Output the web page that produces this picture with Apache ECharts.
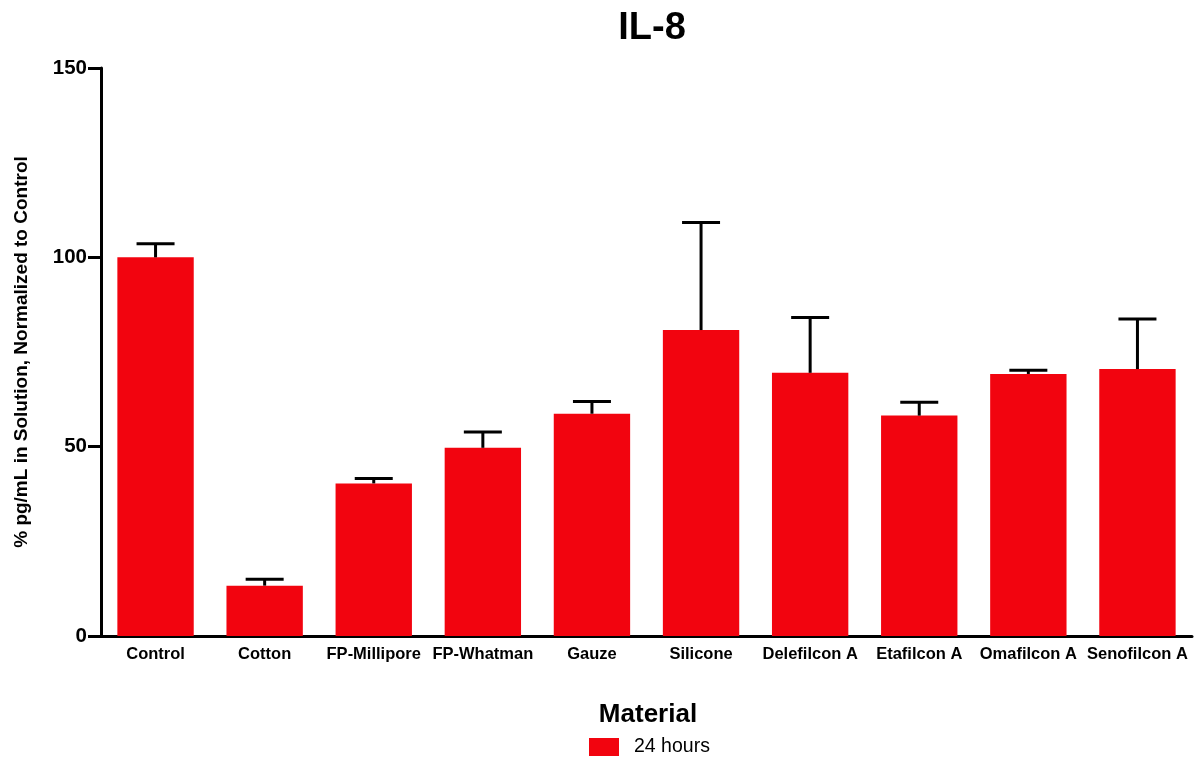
<!DOCTYPE html>
<html>
<head>
<meta charset="utf-8">
<script src="https://cdn.jsdelivr.net/npm/echarts@6/dist/echarts.min.js"></script>
<style>html,body{margin:0;padding:0;background:#fff;}#c{width:1196px;height:760px;}</style>
</head>
<body>
<div id="c"></div>
<script>
var categories = ['Control','Cotton','FP-Millipore','FP-Whatman','Gauze','Silicone','Delefilcon A','Etafilcon A','Omafilcon A','Senofilcon A'];
var means = [100, 13.3, 40.3, 49.7, 58.7, 80.8, 69.5, 58.2, 69.2, 70.5];
var errors = [3.6, 1.7, 1.3, 4.2, 3.2, 28.4, 14.6, 3.5, 1.0, 13.2];
var yTicks = [0, 50, 100, 150];
var seriesName = '24 hours';

var FONT = 'Arial, "Liberation Sans", Helvetica, sans-serif';
var chart = echarts.init(document.getElementById('c'));
var errData = means.map(function(m, i){ return [i, m, m + errors[i]]; });

chart.setOption({
  animation: false,
  title: {
    text: 'IL-8', left: 647, top: 5, textAlign: 'center',
    textStyle: {fontFamily: FONT, fontSize: 38, fontWeight: 'bold', color: '#000'}
  },
  graphic: [{
    type: 'text', x: 648, y: 702,
    style: {text: 'Material', font: 'bold 26px ' + FONT, fill: '#000', textAlign: 'center'}
  }],
  legend: {
    data: [seriesName], top: 737, left: 589, padding: 0,
    itemWidth: 30, itemHeight: 18, itemGap: 10,
    icon: 'rect',
    textStyle: {fontFamily: FONT, fontSize: 19.5, color: '#000', padding: [0, 0, 0, 10]}
  },
  grid: {left: 101, right: 4, top: 68, bottom: 124, containLabel: false},
  xAxis: {
    type: 'category', data: categories,
    axisLine: {lineStyle: {color: '#000', width: 3}},
    axisTick: {alignWithLabel: true, length: 8, lineStyle: {color: '#000', width: 3}},
    axisLabel: {fontFamily: FONT, fontSize: 16.5, fontWeight: 'bold', color: '#000', margin: 10, interval: 0}
  },
  yAxis: {
    type: 'value', min: 0, max: 150, interval: 50,
    name: '% pg/mL in Solution, Normalized to Control',
    nameLocation: 'middle', nameGap: 70,
    nameTextStyle: {fontFamily: FONT, fontSize: 19, fontWeight: 'bold', color: '#000'},
    axisLine: {show: true, lineStyle: {color: '#000', width: 3}},
    axisTick: {show: true, length: 13, lineStyle: {color: '#000', width: 3}},
    axisLabel: {fontFamily: FONT, fontSize: 20.5, fontWeight: 'bold', color: '#000', margin: 14,
      formatter: function(v){ return yTicks.indexOf(v) >= 0 ? String(v) : ''; }},
    splitLine: {show: false}
  },
  series: [{
    name: seriesName, type: 'bar', data: means, barWidth: '70%',
    itemStyle: {color: '#f2040f'}
  }, {
    type: 'custom', name: 'err', z: 5,
    data: errData,
    renderItem: function(params, api){
      var i = api.value(0);
      var top = api.coord([i, api.value(1)]);
      var up = api.coord([i, api.value(2)]);
      var half = 19;
      var st = {stroke: '#000', lineWidth: 3};
      return {type: 'group', children: [
        {type: 'line', shape: {x1: top[0], y1: top[1], x2: up[0], y2: up[1]}, style: st},
        {type: 'line', shape: {x1: up[0] - half, y1: up[1], x2: up[0] + half, y2: up[1]}, style: st}
      ]};
    }
  }]
});
</script>
</body>
</html>
